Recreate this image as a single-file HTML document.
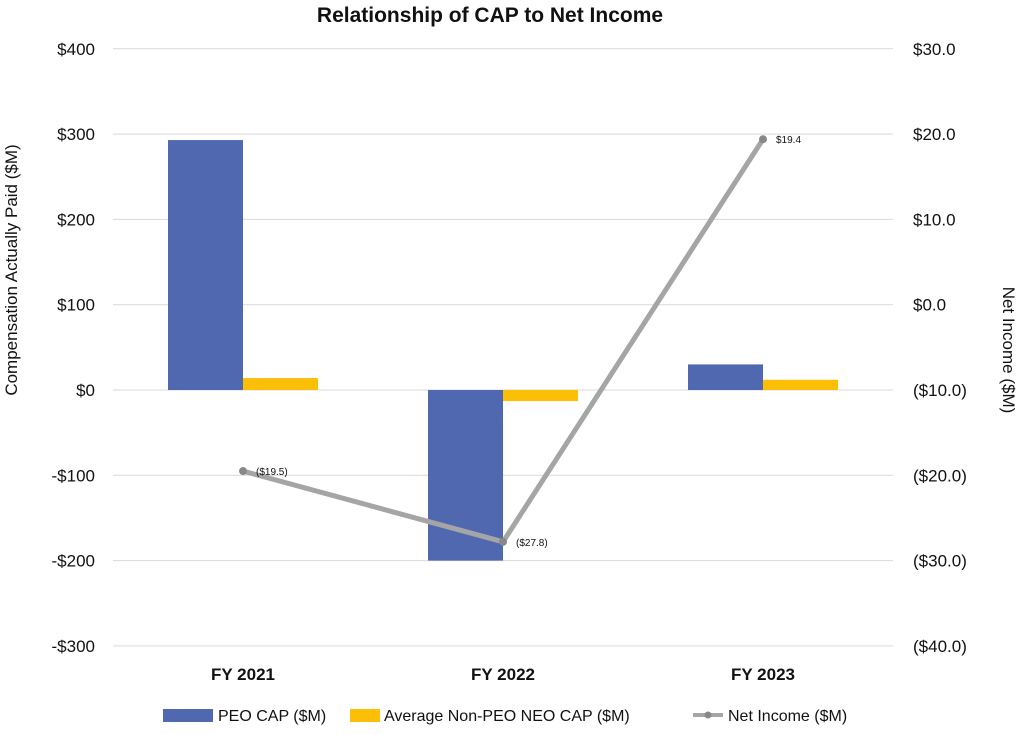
<!DOCTYPE html>
<html><head><meta charset="utf-8"><style>
body{margin:0;background:#fff;font-family:"Liberation Sans",sans-serif}
svg text{font-family:"Liberation Sans",sans-serif}
</style></head><body>
<svg id="c" width="1018" height="730" xmlns="http://www.w3.org/2000/svg">
<text x="490" y="22" text-anchor="middle" font-size="21" font-weight="bold" fill="#111">Relationship of CAP to Net Income</text>
<g id="grid"></g><g id="bars"></g><g id="line"></g><g id="axes"></g>
<text transform="translate(17,270) rotate(-90)" text-anchor="middle" font-size="17" fill="#111">Compensation Actually Paid ($M)</text>
<text transform="translate(1003,350) rotate(90)" text-anchor="middle" font-size="17" fill="#111">Net Income ($M)</text>
<g>
<rect x="163" y="709" width="50" height="13" fill="#5068b0"/>
<text x="218" y="721" font-size="16" fill="#111">PEO CAP ($M)</text>
<rect x="350" y="709" width="30" height="13" fill="#fbbf08"/>
<text x="384" y="721" font-size="16" fill="#111">Average Non-PEO NEO CAP ($M)</text>
<line x1="693" y1="715" x2="723" y2="715" stroke="#a5a5a5" stroke-width="4"/>
<circle cx="708" cy="715" r="3.5" fill="#888"/>
<text x="728" y="721" font-size="16" fill="#111">Net Income ($M)</text>
</g>
</svg>
<script>
const categories=["FY 2021","FY 2022","FY 2023"];
const peoCap=[293,-200,30];
const avgCap=[14,-13,12];
const netIncome=[-19.5,-27.8,19.4];
const netLabels=["($19.5)","($27.8)","$19.4"];
const leftTicks=[400,300,200,100,0,-100,-200,-300];
const rightTicks=[30,20,10,0,-10,-20,-30,-40];
const NS="http://www.w3.org/2000/svg";
const x0=113,x1=893,bw=75;
const yL=v=>390-v*0.853;
const yR=v=>390-(v+10)*8.53;
const cx=i=>x0+(i+0.5)*(x1-x0)/categories.length;
function mk(t,a,p){const e=document.createElementNS(NS,t);for(const k in a)e.setAttribute(k,a[k]);p.appendChild(e);return e;}
const g=document.getElementById('grid'),b=document.getElementById('bars'),l=document.getElementById('line'),ax=document.getElementById('axes');
leftTicks.forEach((v,i)=>{
 const ln=mk('line',{x1:x0,x2:x1,y1:yL(v),y2:yL(v),stroke:'#d9d9d9','stroke-width':1},g);
 
 
 const t=mk('text',{x:95,y:yL(v)+6,'text-anchor':'end','font-size':17,fill:'#111'},ax);
 t.textContent=(v<0?'-$'+(-v):'$'+v);
 
 
});
rightTicks.forEach(v=>{
 const t=mk('text',{x:913,y:yR(v)+6,'font-size':17,fill:'#111'},ax);
 t.textContent=v<0?'($'+(-v).toFixed(1)+')':'$'+v.toFixed(1);
 
 
});
categories.forEach((c,i)=>{
 const x=cx(i);
 const r1=mk('rect',{x:x-bw,y:Math.min(yL(peoCap[i]),yL(0)),width:bw,height:Math.abs(yL(peoCap[i])-yL(0)),fill:'#5068b0'},b);
 
 
 const r2=mk('rect',{x:x,y:Math.min(yL(avgCap[i]),yL(0)),width:bw,height:Math.abs(yL(avgCap[i])-yL(0)),fill:'#fbbf08'},b);
 
 
 const t=mk('text',{x:x,y:680,'text-anchor':'middle','font-size':17,'font-weight':'bold',fill:'#111'},ax);
 t.textContent=c;
 
 
});
const pl=mk('polyline',{points:netIncome.map((v,i)=>cx(i)+','+yR(v)).join(' '),fill:'none',stroke:'#a5a5a5','stroke-width':5},l);


netIncome.forEach((v,i)=>{
 const c=mk('circle',{cx:cx(i),cy:yR(v),r:4,fill:'#888'},l);
 
 
 const t=mk('text',{x:cx(i)+13,y:yR(v)+4,'font-size':10,fill:'#111'},l);
 t.textContent=netLabels[i];
 
 
});
</script>
</body></html>
